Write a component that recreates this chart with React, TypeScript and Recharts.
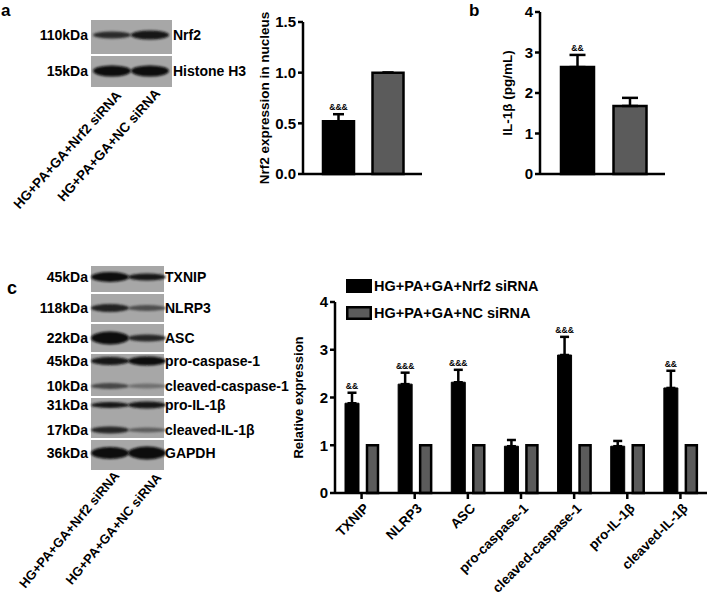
import React from "react";
import { BarChart, Bar, XAxis, YAxis, ErrorBar, LabelList, Legend, Cell } from "recharts";

const FONT = "'Liberation Sans', Arial, Helvetica, sans-serif";
const BLACK = "#000000";
const GRAY = "#5b5b5b";

// a — nuclear Nrf2
const groups = ["HG+PA+GA+Nrf2 siRNA", "HG+PA+GA+NC siRNA"];
const nrf2Values = [0.52, 1.0];
const nrf2Err = [0.07, 0];
const nrf2Marks = ["&&&", ""];

// b — IL-1β
const il1bValues = [2.64, 1.68];
const il1bErr = [0.3, 0.2];
const il1bMarks = ["&&", ""];

// c — relative expression
const proteins = ["TXNIP", "NLRP3", "ASC", "pro-caspase-1", "cleaved-caspase-1", "pro-IL-1β", "cleaved-IL-1β"];
const nrf2SiValues = [1.88, 2.28, 2.32, 0.98, 2.89, 0.98, 2.2];
const nrf2SiErr = [0.22, 0.24, 0.26, 0.13, 0.38, 0.11, 0.36];
const ncSiValues = [1, 1, 1, 1, 1, 1, 1];
const cMarks = ["&&", "&&&", "&&&", "", "&&&", "", "&&"];
const seriesOrder = ["nrf2", "nc"];

// western blot panels (image stand-ins, not chart data)
const blotA = [
  { kda: "110kDa", name: "Nrf2", y: 35, dark: [0.78, 0.95], h: [7, 9] },
  { kda: "15kDa", name: "Histone H3", y: 71, dark: [1, 1], h: [11, 11] },
];
const blotAPanels = [[20, 54], [56, 87]];
const blotC = [
  { kda: "45kDa", name: "TXNIP", y: 277, dark: [0.97, 0.9], h: [10, 7] },
  { kda: "118kDa", name: "NLRP3", y: 308, dark: [0.85, 0.55], h: [8, 6] },
  { kda: "22kDa", name: "ASC", y: 338, dark: [1, 0.8], h: [13, 7] },
  { kda: "45kDa", name: "pro-caspase-1", y: 361, dark: [0.95, 0.97], h: [8, 9] },
  { kda: "10kDa", name: "cleaved-caspase-1", y: 386, dark: [0.6, 0.32], h: [6, 5] },
  { kda: "31kDa", name: "pro-IL-1β", y: 405, dark: [0.9, 0.93], h: [6, 7] },
  { kda: "17kDa", name: "cleaved-IL-1β", y: 430, dark: [0.82, 0.45], h: [7, 5] },
  { kda: "36kDa", name: "GAPDH", y: 453, dark: [1, 1], h: [12, 13] },
];
const blotCPanels = [[266, 292], [294, 322], [324, 352], [354, 396], [398, 438], [440, 470]];

const aData = groups.map((g, i) => ({ group: g, value: nrf2Values[i], err: [0, nrf2Err[i]], mark: nrf2Marks[i] }));
const bData = groups.map((g, i) => ({ group: g, value: il1bValues[i], err: [0, il1bErr[i]], mark: il1bMarks[i] }));
const cData = proteins.map((p, i) => ({
  protein: p,
  nrf2: nrf2SiValues[i],
  nrf2Err: [0, nrf2SiErr[i]],
  nc: ncSiValues[i],
  mark: cMarks[i],
}));

const AX = { stroke: BLACK, strokeWidth: 2.5 };
const tickStyle = { fill: BLACK, fontSize: 15, fontWeight: 700 };

// "&&" marks sit just above the error bar cap
function markContent(vals: number[], errs: number[], marks: string[], fs: number) {
  return (p: any) => {
    const i = p.index;
    const m = marks[i];
    if (!m) return null;
    const x = Number(p.x), y = Number(p.y), w = Number(p.width), h = Number(p.height);
    const top = y - errs[i] * (h / vals[i]);
    return (
      <text x={x + w / 2} y={top - 4} textAnchor="middle" fontSize={fs} fontWeight={700} fill={BLACK}>
        {m}
      </text>
    );
  };
}

function yLabel(text: string, dx: number, fs: number) {
  return {
    content: (p: any) => {
      const vb = p.viewBox || {};
      const cx = Number(vb.x) + dx;
      const cy = Number(vb.y) + Number(vb.height) / 2;
      return (
        <text transform={`translate(${cx},${cy}) rotate(-90)`} textAnchor="middle" dominantBaseline="central"
          fontSize={fs} fontWeight={700} fill={BLACK}>
          {text}
        </text>
      );
    },
  };
}

function CTick(p: any) {
  return (
    <text transform={`translate(${p.x + 5},${p.y + 5}) rotate(-45)`} textAnchor="end" dominantBaseline="central"
      fontSize={13.5} fontWeight={700} fill={BLACK}>
      {p.payload.value}
    </text>
  );
}

function LegendBox(p: any) {
  const items = [...(p.payload || [])].sort(
    (a: any, b: any) => seriesOrder.indexOf(a.dataKey) - seriesOrder.indexOf(b.dataKey)
  );
  return (
    <div>
      {items.map((it: any) => (
        <div key={it.value} style={{ display: "flex", alignItems: "center", height: 27 }}>
          <svg width={26} height={14} style={{ marginRight: 2 }}>
            <rect x={1.25} y={1.25} width={23.5} height={11.5} fill={it.color} stroke={BLACK} strokeWidth={2.5} />
          </svg>
          <span style={{ fontSize: 14.5, fontWeight: 700, color: BLACK }}>{it.value}</span>
        </div>
      ))}
    </div>
  );
}

function Blot({ x, w, lanes, bands, panels }: any) {
  return (
    <g>
      {panels.map((pp: number[], i: number) => (
        <rect key={i} x={x} y={pp[0]} width={w} height={pp[1] - pp[0]} fill="#a7a7a7" />
      ))}
      {bands.map((b: any, i: number) => (
        <g key={i}>
          {lanes.map((lx: number, j: number) => {
            const v = Math.round(160 - 150 * b.dark[j]);
            return (
              <ellipse key={j} cx={lx} cy={b.y} rx={19} ry={b.h[j] / 2} fill={`rgb(${v},${v},${v})`} filter="url(#bandBlur)" />
            );
          })}
          <text x={x - 3} y={b.y} textAnchor="end" dominantBaseline="central" fontSize={14} fontWeight={700}>{b.kda}</text>
          <text x={x + w + 1} y={b.y} dominantBaseline="central" fontSize={14} fontWeight={700}>{b.name}</text>
        </g>
      ))}
    </g>
  );
}

function GroupLabels({ ends, angle, fs }: any) {
  return (
    <g>
      {groups.map((g, i) => (
        <text key={g} transform={`translate(${ends[i][0]},${ends[i][1]}) rotate(${angle})`} textAnchor="end"
          fontSize={fs} fontWeight={700}>
          {g}
        </text>
      ))}
    </g>
  );
}

export default function App() {
  return (
    <div style={{ position: "absolute", left: 0, top: 0, width: 708, height: 598, background: "#fff", fontFamily: FONT, fontWeight: 700, overflow: "hidden" }}>
      <svg width={708} height={598} style={{ position: "absolute", left: 0, top: 0 }} fontFamily={FONT} fill={BLACK}>
        <defs>
          <filter id="bandBlur" x="-30%" y="-100%" width="160%" height="300%">
            <feGaussianBlur stdDeviation="1.3" />
          </filter>
        </defs>
        <text x={1} y={16} fontSize={17} fontWeight={700}>a</text>
        <text x={469} y={16} fontSize={17} fontWeight={700}>b</text>
        <text x={7} y={294} fontSize={18} fontWeight={700}>c</text>
        <Blot x={91} w={81} lanes={[112, 150]} bands={blotA} panels={blotAPanels} />
        <Blot x={91} w={73} lanes={[110, 147]} bands={blotC} panels={blotCPanels} />
        <GroupLabels ends={[[122, 96], [161, 94]]} angle={-48} fs={13.5} />
        <GroupLabels ends={[[120, 476], [162, 478]]} angle={-50} fs={13} />
      </svg>

      {/* a: Nrf2 in nucleus */}
      <div style={{ position: "absolute", left: 250, top: 0 }}>
        <BarChart width={172} height={200} data={aData} margin={{ top: 22, right: 0, bottom: 0, left: 0 }}>
          <XAxis dataKey="group" tick={false} tickSize={6} axisLine={AX} tickLine={AX} height={26}
            padding={{ left: 11, right: 9 }} />
          <YAxis domain={[0, 1.5]} ticks={[0, 0.5, 1, 1.5]} tickFormatter={(v: number) => v.toFixed(1)}
            width={53} tickSize={5} tickMargin={2} axisLine={AX} tickLine={AX} tick={tickStyle} interval={0}
            label={yLabel("Nrf2 expression in nucleus", 14, 13.5)} />
          <Bar dataKey="value" barSize={31} stroke={BLACK} strokeWidth={2.5} isAnimationActive={false}>
            {aData.map((d, i) => (
              <Cell key={d.group} fill={i === 0 ? BLACK : GRAY} />
            ))}
            <ErrorBar dataKey="err" width={5.5} strokeWidth={2.5} stroke={BLACK} isAnimationActive={false} />
            <LabelList dataKey="mark" content={markContent(nrf2Values, nrf2Err, nrf2Marks, 8.5)} />
          </Bar>
        </BarChart>
      </div>

      {/* b: IL-1β */}
      <div style={{ position: "absolute", left: 490, top: 0 }}>
        <BarChart width={175} height={200} data={bData} margin={{ top: 12, right: 0, bottom: 0, left: 0 }}>
          <XAxis dataKey="group" tick={false} tickSize={6} axisLine={AX} tickLine={AX} height={26}
            padding={{ left: 11, right: 9 }} />
          <YAxis domain={[0, 4]} ticks={[0, 1, 2, 3, 4]} width={50} tickSize={5} tickMargin={2}
            axisLine={AX} tickLine={AX} tick={tickStyle} interval={0}
            label={yLabel("IL-1β (pg/mL)", 17, 13.5)} />
          <Bar dataKey="value" barSize={33} stroke={BLACK} strokeWidth={2.5} isAnimationActive={false}>
            {bData.map((d, i) => (
              <Cell key={d.group} fill={i === 0 ? BLACK : GRAY} />
            ))}
            <ErrorBar dataKey="err" width={8} strokeWidth={2.5} stroke={BLACK} isAnimationActive={false} />
            <LabelList dataKey="mark" content={markContent(il1bValues, il1bErr, il1bMarks, 8.5)} />
          </Bar>
        </BarChart>
      </div>

      {/* c: inflammasome proteins */}
      <div style={{ position: "absolute", left: 290, top: 240 }}>
        <BarChart width={418} height={358} data={cData} barGap={8} barCategoryGap={9}
          margin={{ top: 62, right: 1, bottom: 0, left: 0 }}>
          <XAxis dataKey="protein" tick={<CTick />} tickSize={6} tickMargin={2} axisLine={AX} tickLine={AX}
            height={105} interval={0} />
          <YAxis domain={[0, 4]} ticks={[0, 1, 2, 3, 4]} width={45} tickSize={5} tickMargin={2}
            axisLine={AX} tickLine={AX} tick={tickStyle} interval={0}
            label={yLabel("Relative expression", 8, 13)} />
          <Legend layout="vertical" align="center" verticalAlign="middle" content={<LegendBox />}
            wrapperStyle={{ left: 56, top: 32, width: 260, height: 56 }} />
          <Bar dataKey="nrf2" name="HG+PA+GA+Nrf2 siRNA" fill={BLACK} barSize={14} stroke={BLACK}
            strokeWidth={1} isAnimationActive={false}>
            <ErrorBar dataKey="nrf2Err" width={4.5} strokeWidth={2.5} stroke={BLACK} isAnimationActive={false} />
            <LabelList dataKey="mark" content={markContent(nrf2SiValues, nrf2SiErr, cMarks, 8.5)} />
          </Bar>
          <Bar dataKey="nc" name="HG+PA+GA+NC siRNA" fill={GRAY} barSize={11} stroke={BLACK}
            strokeWidth={2.5} isAnimationActive={false} />
        </BarChart>
      </div>
    </div>
  );
}
